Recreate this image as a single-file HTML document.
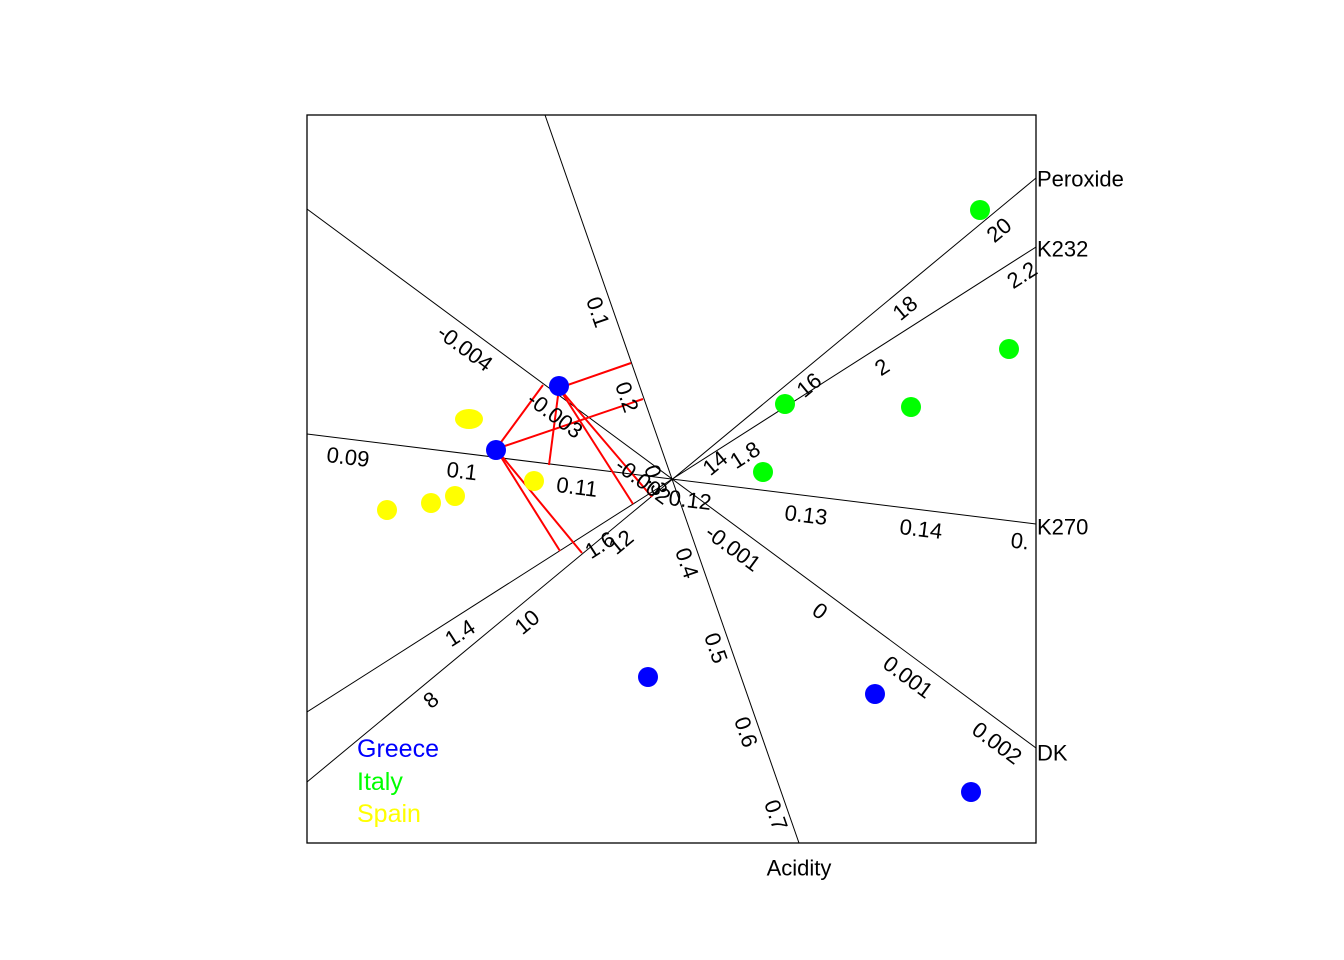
<!DOCTYPE html>
<html><head><style>body{margin:0;background:#fff}svg{display:block}text{font-family:"Liberation Sans",Arial,sans-serif}</style></head><body>
<svg width="1344" height="960" viewBox="0 0 1344 960">
<defs><clipPath id="c"><rect x="307" y="115" width="729" height="728"/></clipPath></defs>
<g clip-path="url(#c)" stroke="#000" stroke-width="1">
<line x1="545" y1="115" x2="799" y2="843"/>
<line x1="307" y1="209" x2="1036" y2="748"/>
<line x1="307" y1="434" x2="1036" y2="524"/>
<line x1="307" y1="782" x2="1036" y2="178"/>
<line x1="307" y1="712" x2="1036" y2="247"/>
</g>
<rect x="307" y="115" width="729" height="728" fill="none" stroke="#000" stroke-width="1.3"/>
<g stroke="red" stroke-width="2">
<line x1="559" y1="388" x2="631" y2="363"/><line x1="559" y1="388" x2="549" y2="465"/>
<line x1="559" y1="388" x2="633" y2="504"/><line x1="559" y1="388" x2="652" y2="497"/>
<line x1="496" y1="449" x2="543" y2="385"/><line x1="496" y1="449" x2="643" y2="399"/>
<line x1="496" y1="449" x2="560" y2="551"/><line x1="496" y1="449" x2="582" y2="553"/>
</g>
<g fill="#0000ff"><circle cx="559" cy="386" r="10"/><circle cx="496" cy="450" r="10"/><circle cx="648" cy="677" r="10"/><circle cx="875" cy="694" r="10"/><circle cx="971" cy="792" r="10"/></g>
<g fill="#00ff00"><circle cx="980" cy="210" r="10"/><circle cx="1009" cy="349" r="10"/><circle cx="911" cy="407" r="10"/><circle cx="785" cy="404" r="10"/><circle cx="763" cy="472" r="10"/></g>
<g fill="#ffff00"><ellipse cx="469" cy="419" rx="14" ry="10"/><circle cx="387" cy="510" r="10"/><circle cx="431" cy="503" r="10"/><circle cx="455" cy="496" r="10"/><circle cx="534" cy="481" r="10"/></g>
<g font-size="22" text-anchor="middle" dominant-baseline="central" fill="#000">
<g>
<text transform="translate(598,312) rotate(70.8)">0.1</text>
<text transform="translate(627,397) rotate(70.8)">0.2</text>
<text transform="translate(656,480) rotate(70.8)">0.3</text>
<text transform="translate(687,563) rotate(70.8)">0.4</text>
<text transform="translate(716,648) rotate(70.8)">0.5</text>
<text transform="translate(746,732) rotate(70.8)">0.6</text>
<text transform="translate(776,815) rotate(70.8)">0.7</text>
</g>
<g>
<text transform="translate(465,348) rotate(36.5)">-0.004</text>
<text transform="translate(555,415) rotate(36.5)">-0.003</text>
<text transform="translate(643,481) rotate(36.5)">-0.002</text>
<text transform="translate(733,548) rotate(36.5)">-0.001</text>
<text transform="translate(820,611) rotate(36.5)">0</text>
<text transform="translate(908,677) rotate(36.5)">0.001</text>
<text transform="translate(997,743) rotate(36.5)">0.002</text>
</g>
<g>
<text transform="translate(348,457) rotate(7)">0.09</text>
<text transform="translate(462,471) rotate(7)">0.1</text>
<text transform="translate(577,487) rotate(7)">0.11</text>
<text transform="translate(690,500) rotate(7)">0.12</text>
<text transform="translate(806,515) rotate(7)">0.13</text>
<text transform="translate(921,529) rotate(7)">0.14</text>
<text transform="translate(1020,541) rotate(7)">0.</text>
</g>
<g>
<text transform="translate(431,700) rotate(-39.6)">8</text>
<text transform="translate(527,622) rotate(-39.6)">10</text>
<text transform="translate(621,542) rotate(-39.6)">12</text>
<text transform="translate(715,463) rotate(-39.6)">14</text>
<text transform="translate(809,385) rotate(-39.6)">16</text>
<text transform="translate(905,308) rotate(-39.6)">18</text>
<text transform="translate(999,230) rotate(-39.6)">20</text>
</g>
<g>
<text transform="translate(460,633) rotate(-32.5)">1.4</text>
<text transform="translate(600,545) rotate(-32.5)">1.6</text>
<text transform="translate(745,455) rotate(-32.5)">1.8</text>
<text transform="translate(882,367) rotate(-32.5)">2</text>
<text transform="translate(1022,275) rotate(-32.5)">2.2</text>
</g>
</g>
<g font-size="22" fill="#000" dominant-baseline="central">
<text x="1037" y="179">Peroxide</text>
<text x="1037" y="249">K232</text>
<text x="1037" y="527">K270</text>
<text x="1037" y="753">DK</text>
<text x="799" y="868" text-anchor="middle">Acidity</text>
</g>
<g font-size="25" dominant-baseline="central">
<text x="357" y="749" fill="#0000ff">Greece</text>
<text x="357" y="782" fill="#00ff00">Italy</text>
<text x="357" y="814" fill="#ffff00">Spain</text>
</g>
</svg>
</body></html>
